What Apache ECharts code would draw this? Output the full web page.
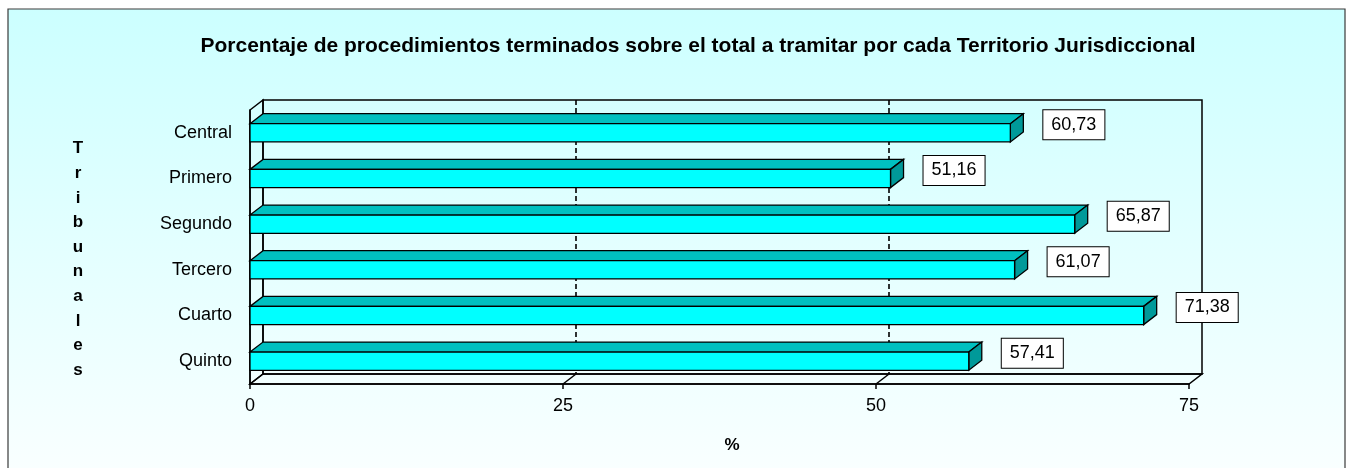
<!DOCTYPE html>
<html>
<head>
<meta charset="utf-8">
<script src="https://cdn.jsdelivr.net/npm/echarts@6/dist/echarts.min.js"></script>
<style>
html,body{margin:0;padding:0;background:#ffffff;}
#c{width:1348px;height:468px;}
</style>
</head>
<body>
<div id="c"></div>
<script>
// ---- data ----
const categories = ['Central', 'Primero', 'Segundo', 'Tercero', 'Cuarto', 'Quinto'];
const values = [60.73, 51.16, 65.87, 61.07, 71.38, 57.41];
const xTicks = [0, 25, 50, 75];
const titleText = 'Porcentaje de procedimientos terminados sobre el total a tramitar por cada Territorio Jurisdiccional';
const yName = 'Tribunales';
const xName = '%';

// ---- style constants ----
const FONT = '"Liberation Sans", Arial, sans-serif';
const DX = 13, DY = -10;   // 3D depth offset

function fmt(v) { return v.toFixed(2).replace('.', ','); }

function renderWalls(params, api) {
  const cs = params.coordSys;
  const x = cs.x, y = cs.y, w = cs.width, h = cs.height;
  const st = { fill: 'none', stroke: '#000', lineWidth: 1.5 };
  const children = [
    { type: 'polygon', shape: { points: [[x, y], [x + DX, y + DY], [x + DX, y + h + DY], [x, y + h]] }, style: st },
    { type: 'polygon', shape: { points: [[x, y + h], [x + DX, y + h + DY], [x + w + DX, y + h + DY], [x + w, y + h]] }, style: st },
    { type: 'rect', shape: { x: x + DX, y: y + DY, width: w, height: h }, style: st }
  ];
  for (let k = 1; k < xTicks.length - 1; k++) {
    const px = api.coord([xTicks[k], 0])[0];
    children.push({ type: 'line', shape: { x1: px + DX, y1: y + DY, x2: px + DX, y2: y + h + DY },
      style: { stroke: '#000', lineWidth: 1.6, lineDash: [5, 3] } });
    children.push({ type: 'line', shape: { x1: px, y1: y + h, x2: px + DX, y2: y + h + DY },
      style: { stroke: '#000', lineWidth: 1.5 } });
  }
  return { type: 'group', children: children };
}

function renderBars(params, api) {
  const v = api.value(0), i = api.value(1);
  const s = api.coord([0, i]);
  const e = api.coord([v, i]);
  const bh = api.size([0, 1])[1] * 0.4;
  const x0 = s[0], x1 = e[0];
  const y0 = s[1] - bh / 2, y1 = s[1] + bh / 2;
  const edge = { stroke: '#000', lineWidth: 1.3 };
  return {
    type: 'group',
    children: [
      { type: 'polygon', shape: { points: [[x0, y0], [x0 + DX, y0 + DY], [x1 + DX, y0 + DY], [x1, y0]] },
        style: Object.assign({ fill: '#00c0c0' }, edge) },
      { type: 'polygon', shape: { points: [[x1, y0], [x1 + DX, y0 + DY], [x1 + DX, y1 + DY], [x1, y1]] },
        style: Object.assign({ fill: '#009999' }, edge) },
      { type: 'rect', shape: { x: x0, y: y0, width: x1 - x0, height: y1 - y0 },
        style: Object.assign({ fill: '#00ffff' }, edge) },
      { type: 'text', x: x1 + DX + 20, y: s[1] - 8,
        style: { text: fmt(v), fill: '#000', fontSize: 18, fontFamily: FONT, lineHeight: 19,
          align: 'left', verticalAlign: 'middle', backgroundColor: '#ffffff',
          borderColor: '#000', borderWidth: 1, padding: [5, 8, 5, 8] } }
    ]
  };
}

const chart = echarts.init(document.getElementById('c'));
chart.setOption({
  animation: false,
  backgroundColor: 'transparent',
  graphic: [
    { type: 'rect', z: -10, silent: true,
      shape: { x: 8, y: 9, width: 1337, height: 480 },
      style: { fill: new echarts.graphic.LinearGradient(0, 0, 0, 1, [
        { offset: 0, color: '#ccffff' }, { offset: 1, color: '#fbffff' }]),
        stroke: '#3a3a3a', lineWidth: 1.2 } },
    { type: 'text', x: 698, y: 46, silent: true,
      style: { text: titleText, fontSize: 21, fontWeight: 'bold', fontFamily: FONT, fill: '#000',
        align: 'center', verticalAlign: 'middle' } },
    { type: 'text', x: 78, y: 259.5, silent: true,
      style: { text: yName.split('').join('\n'), fontSize: 17, fontWeight: 'bold', fontFamily: FONT,
        fill: '#000', lineHeight: 24.6, align: 'center', verticalAlign: 'middle' } },
    { type: 'text', x: 732, y: 445, silent: true,
      style: { text: xName, fontSize: 17, fontWeight: 'bold', fontFamily: FONT, fill: '#000',
        align: 'center', verticalAlign: 'middle' } }
  ],
  grid: { left: 250, right: 159, top: 110, bottom: 84, containLabel: false },
  xAxis: {
    type: 'value', min: xTicks[0], max: xTicks[xTicks.length - 1], interval: 25,
    axisLine: { show: true, lineStyle: { color: '#000', width: 1.5 } },
    axisTick: { show: true, length: 5, lineStyle: { color: '#000', width: 1.5 } },
    axisLabel: { fontSize: 18, color: '#000', fontFamily: FONT, margin: 13 },
    splitLine: { show: false }
  },
  yAxis: {
    type: 'category', data: categories, inverse: true,
    axisLine: { show: true, lineStyle: { color: '#000', width: 1.5 } },
    axisTick: { show: false },
    axisLabel: { fontSize: 18, color: '#000', fontFamily: FONT, margin: 18 },
    splitLine: { show: false }
  },
  series: [
    { type: 'custom', name: 'walls', renderItem: renderWalls, data: [[0, 0]], clip: false, z: 1, silent: true },
    { type: 'custom', name: 'bars', renderItem: renderBars, clip: false, z: 3,
      encode: { x: 0, y: 1 },
      data: values.map(function (v, i) { return [v, i]; }) }
  ]
});
</script>
</body>
</html>
